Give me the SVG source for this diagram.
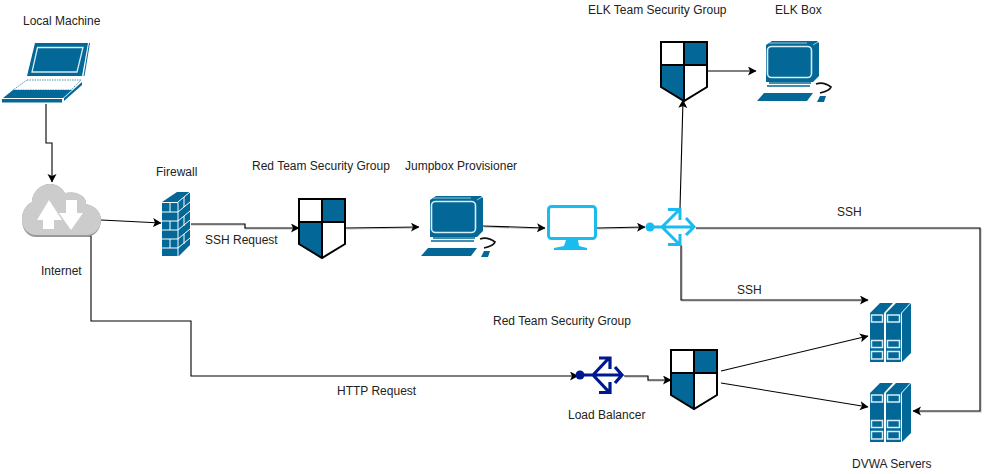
<svg xmlns="http://www.w3.org/2000/svg" xmlns:xlink="http://www.w3.org/1999/xlink" width="992" height="474" viewBox="0 0 992 474">
<style>
text{font-family:"Liberation Sans",Arial,sans-serif;font-size:12px;fill:#222}
.c{fill:none;stroke:#000;stroke-width:1.1}
.s{fill:none;stroke:#bbb;stroke-width:1.1}
.b{fill:#036897}
.cy{fill:none;stroke:#1abcf0;stroke-width:3}
.nv{fill:none;stroke:#00188f;stroke-width:3.2}
</style>
<defs>
<marker id="a" markerWidth="10" markerHeight="10" refX="8" refY="4.5" orient="auto" markerUnits="userSpaceOnUse"><path d="M0 0L8.500 4.500L0 9L2 4.500Z" fill="#000"/></marker>
<g id="shield">
<path d="M1 1H47V46L24 60L1 46Z" fill="#fff"/>
<path d="M24 1H47V24H24Z" class="b"/><path d="M1 24H24V60L1 46Z" class="b"/>
<path d="M1 1H47V46L24 60L1 46ZM24 1V60M1 24H47" fill="none" stroke="#000" stroke-width="2"/>
</g>
<g id="pc">
<path d="M9 4L15 0H60L62 2V35L56 41H9Z" class="b"/>
<path d="M56 4L61 1M12 2H50" stroke="#9cc7da" stroke-width="1" fill="none"/>
<rect x="10.500" y="5.500" width="44" height="31" rx="4" class="b" stroke="#d8ecf4" stroke-width="1.600"/>
<path d="M12 42H54M10 45H53" stroke="#036897" stroke-width="1.500"/>
<path d="M7 52H56L50 60H0Z" class="b"/>
<path d="M59 43C64 41 70 43 74 46C73 49 67 51 63 52" fill="none" stroke="#111" stroke-width="1.700"/>
<path d="M63 55H69L67 61H60Z" class="b"/>
</g>
<g id="server">
<path d="M0 11L10 1H23L14 11ZM16 11L26 1H40L31 11Z" class="b"/>
<path d="M32 11L41 1V51L32 60Z" class="b"/>
<rect x="0" y="11" width="14" height="49" class="b"/><rect x="16" y="11" width="15" height="49" class="b"/>
<path d="M1.500 13H12.500V20H1.500ZM17.500 13H29.500V20H17.500ZM1.500 38.500H12.500V45.500H1.500ZM17.500 38.500H29.500V45.500H17.500ZM1.500 49.500H12.500V57H1.500ZM17.500 49.500H29.500V57H17.500Z" fill="none" stroke="#d8ecf4" stroke-width="1.500"/>
</g>
</defs>
<rect width="992" height="474" fill="#fff"/>

<g id="connectors">
<path class="s" d="M191 225H245V229H298M347 229L418 228M484 227L545 229M598 229L645 228M696 229H981V412H915M682 246V301H868M625 377H648V381H670"/>
<path class="c" d="M46 104V143H52V182" marker-end="url(#a)"/>
<path class="c" d="M101 220L161 223" marker-end="url(#a)"/>
<path class="c" d="M191 224H245V228H299" marker-end="url(#a)"/>
<path class="c" d="M346 228L419 227" marker-end="url(#a)"/>
<path class="c" d="M483 226L545 228" marker-end="url(#a)"/>
<path class="c" d="M597 228L645 227" marker-end="url(#a)"/>
<path class="c" d="M680 208L683 100" marker-end="url(#a)"/>
<path class="c" d="M707 71H756" marker-end="url(#a)"/>
<path class="c" d="M681 245V300H868" marker-end="url(#a)"/>
<path class="c" d="M696 228H980V411H913" marker-end="url(#a)"/>
<path class="c" d="M62 236H91V321H191V376H578" marker-end="url(#a)"/>
<path class="c" d="M624 376H648V380H671" marker-end="url(#a)"/>
<path class="c" d="M721 371L868 336" marker-end="url(#a)"/>
<path class="c" d="M721 383L868 407" marker-end="url(#a)"/>
</g>

<g id="local-machine">
<path class="b" d="M35 43H88L82 76H27Z"/>
<path d="M37.500 47.500H83L77 72H32Z" fill="none" stroke="#d8ecf4" stroke-width="1.300"/>
<path d="M89.500 43L84 76" stroke="#036897" fill="none"/>
<path d="M27 80H81L71 90H13Z" fill="#fff" stroke="#036897" stroke-width="0.700" stroke-dasharray="1.500 1"/>
<path class="b" d="M13 90H72L63 98H3Z"/>
<rect x="2" y="99" width="60" height="3.500" class="b"/>
<path class="b" d="M64 98L82 82V85L64 101Z"/>
<text x="23" y="25">Local Machine</text>
</g>

<g id="internet">
<path d="M22 220C22 211 26 205 32 202C32 192 41 184 50 184C57 184 62 188 65 193C70 192 77 192 80 195C85 197 86 201 86 204C95 206 101 212 101 220C101 230 94 237 86 237H36C28 237 22 230 22 220Z" fill="#999"/>
<path d="M22 220C22 211 26 205 32 202C32 192 41 184 50 184C57 184 62 188 65 193C70 192 77 192 80 195C85 197 86 201 86 204C95 206 101 212 101 220C101 229 94 235 86 235H36C28 235 22 228 22 220Z" fill="#ccc"/>
<path d="M49 200L62 220H54V229H43V220H37Z" fill="#fff"/>
<path d="M66 200H77V213H83L71 230L59 213H66Z" fill="#fff"/>
<text x="41" y="275">Internet</text>
</g>

<g id="firewall">
<path class="b" d="M162 202L177 192H190V245L179 256H162Z"/>
<path d="M162 202.500H178V257M162 212H178M162 221H178M162 230H178M162 239H178M162 248H178M170 202V212M170 221V230M170 239V248M178 202L190 192M178 212L190 202M178 221L190 211M178 230L190 220M178 239L190 229M178 248L190 238M184 197V207M184 216V226M184 234V244" fill="none" stroke="#fff" stroke-width="1"/>
<text x="156" y="176">Firewall</text>
</g>

<g id="red-team-sg-1">
<use href="#shield" transform="translate(298 198)"/>
<text x="252" y="170">Red Team Security Group</text>
</g>

<g id="jumpbox">
<use href="#pc" transform="translate(421 196)"/>
<text x="405" y="170">Jumpbox Provisioner</text>
</g>

<g id="monitor">
<rect x="548.500" y="206.500" width="47" height="32" rx="3" fill="#fff" stroke="#1abcf0" stroke-width="3"/>
<path d="M566 240H578L579 246L587 248V250H554V248L564 246Z" fill="#1abcf0"/>
</g>

<g id="router-cyan">
<circle cx="650" cy="227" r="4.500" fill="#1abcf0"/>
<path class="cy" d="M650 227H694M686 218L694 227L686 235M662 227L679 210M668 209.500H680V220M662 227L679 244M668 244.500H680V234"/>
</g>

<g id="elk-sg">
<use href="#shield" transform="translate(660 41)"/>
<text x="588" y="14">ELK Team Security Group</text>
</g>

<g id="elk-box">
<use href="#pc" transform="translate(757 41)"/>
<text x="775" y="14">ELK Box</text>
</g>

<g id="load-balancer">
<circle cx="580" cy="375" r="4.500" fill="#00188f"/>
<path class="nv" d="M580 375H622M615 367L622 375L615 383M593 375L609 358M599 358H610V369M593 375L609 392M599 392.500H610V382"/>
<text x="568" y="419">Load Balancer</text>
</g>

<g id="red-team-sg-2">
<use href="#shield" transform="translate(670 349)"/>
<text x="493" y="325">Red Team Security Group</text>
</g>

<g id="server-1"><use href="#server" transform="translate(870 302)"/></g>
<g id="server-2">
<use href="#server" transform="translate(870 382)"/>
<text x="852" y="468">DVWA Servers</text>
</g>

<g id="labels">
<text x="205" y="244">SSH Request</text>
<text x="837" y="216">SSH</text>
<text x="737" y="294">SSH</text>
<text x="337" y="395">HTTP Request</text>
</g>
</svg>
